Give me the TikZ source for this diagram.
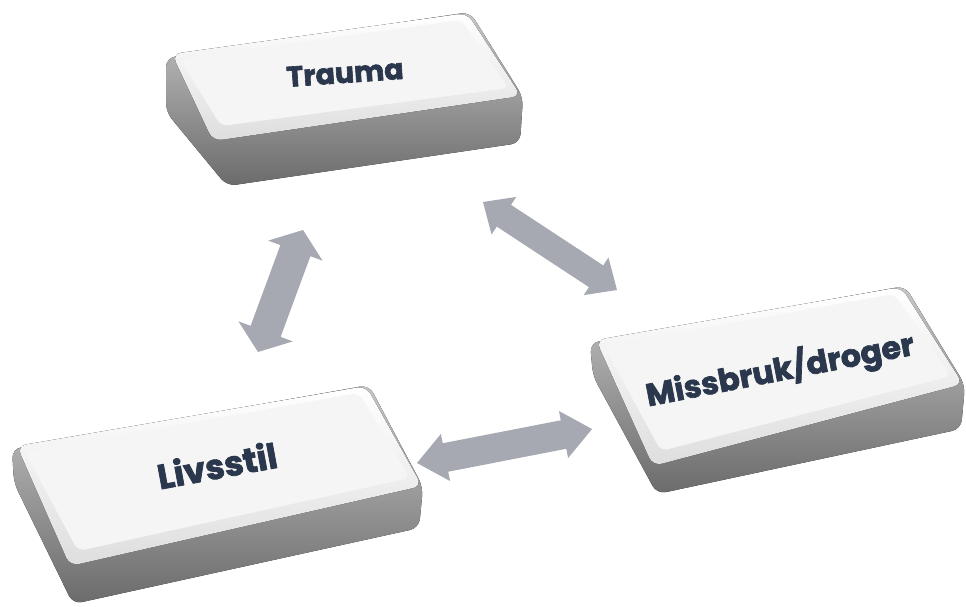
\documentclass[tikz,border=0pt]{standalone}
\usepackage{fontspec}
\newfontfamily\keyfont{Poppins}[BoldFeatures={FakeBold=2.2}]
\usetikzlibrary{calc}
\definecolor{arrowgray}{RGB}{166,169,177}
\definecolor{keytext}{RGB}{42,55,76}
\definecolor{keyflatc}{RGB}{245,245,245}
\tikzset{
  keyside/.style={top color=black!22, bottom color=black!58, rounded corners=9pt},
  keytop/.style={top color=white, bottom color=black!13, rounded corners=9pt},
  keyflat/.style={fill=keyflatc, rounded corners=7pt},
  keylabel/.style={font=\keyfont\bfseries, text=keytext, inner sep=0pt},
  arrowfill/.style={fill=arrowgray},
}
% #1,#2 tips; #3 shaft half width; #4 head half width; #5 head length
\newcommand{\blockarrow}[5]{%
  \path ($(#1)!#5!(#2)$) coordinate (ha) ($(#2)!#5!(#1)$) coordinate (hb);
  \fill[arrowfill] (#1) -- ($(ha)!#4!90:(#2)$) -- ($(ha)!#3!90:(#2)$)
    -- ($(hb)!#3!-90:(#1)$) -- ($(hb)!#4!-90:(#1)$) -- (#2)
    -- ($(hb)!#4!90:(#1)$) -- ($(hb)!#3!90:(#1)$)
    -- ($(ha)!#3!-90:(#2)$) -- ($(ha)!#4!-90:(#2)$) -- cycle;
}
\begin{document}
\begin{tikzpicture}[x=1pt,y=-1pt]
\useasboundingbox (0,0) rectangle (966,606);

% ---- Trauma key
\fill[keyside] (166,58) -- (470,12) -- (523,97) -- (520,143) -- (227,186) -- (166,112) -- cycle;
\fill[keytop] (172,54) -- (467,13) -- (521,96) -- (213,141) -- cycle;
\fill[keyflat] (180,59) -- (461,20) -- (509,88) -- (221,126) -- cycle;
\node[keylabel, rotate=4, font=\keyfont\bfseries\fontsize{28.5}{28.5}\selectfont] (trauma) at (345,73) {Trauma};

% ---- Missbruk/droger key
\fill[keyside] (590,343) -- (905,286) -- (965,385) -- (961,429) -- (657,494) -- (593,376) -- cycle;
\fill[keytop] (596,340) -- (901,287) -- (963,384) -- (653,466) -- cycle;
\fill[keyflat] (604,346) -- (894,294) -- (951,376) -- (661,451) -- cycle;
\node[keylabel, rotate=11, font=\keyfont\bfseries\fontsize{31.5}{31.5}\selectfont] (miss) at (780,370) {Missbruk/droger};

% ---- Livsstil key
\fill[keyside] (12,449) -- (369,385) -- (423,487) -- (419,528) -- (73,604) -- (14,483) -- cycle;
\fill[keytop] (17,446) -- (366,386) -- (422,486) -- (70,566) -- cycle;
\fill[keyflat] (25,452) -- (359,393) -- (410,478) -- (78,551) -- cycle;
\node[keylabel, rotate=10.5, font=\keyfont\bfseries\fontsize{34.5}{34.5}\selectfont] (livs) at (217,465) {Livsstil};

% ---- arrows
\coordinate (a1s) at (303,230);
\coordinate (a1e) at (258,352);
\coordinate (a2s) at (483,202);
\coordinate (a2e) at (617,290);
\coordinate (a3s) at (417,463);
\coordinate (a3e) at (592,429);
\blockarrow{a1s}{a1e}{16pt}{29pt}{22pt}
\blockarrow{a2s}{a2e}{13pt}{22.5pt}{25pt}
\blockarrow{a3s}{a3e}{14.5pt}{24pt}{29pt}
\end{tikzpicture}
\end{document}
